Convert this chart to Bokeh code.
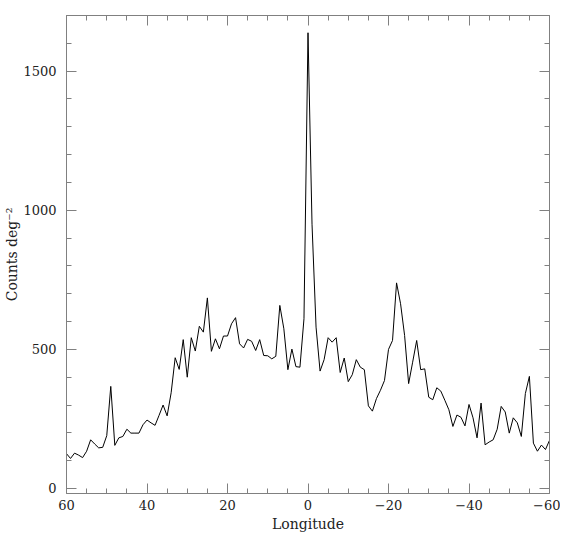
from bokeh.plotting import figure
from bokeh.models import Range1d, LinearAxis, FixedTicker, CustomJSTickFormatter
from bokeh.embed import file_html
from bokeh.resources import INLINE

longitude = [
    60, 59, 58, 57, 56, 55, 54, 53, 52, 51,
    50, 49, 48, 47, 46, 45, 44, 43, 42, 41,
    40, 39, 38, 37, 36, 35, 34, 33, 32, 31,
    30, 29, 28, 27, 26, 25, 24, 23, 22, 21,
    20, 19, 18, 17, 16, 15, 14, 13, 12, 11,
    10, 9, 8, 7, 6, 5, 4, 3, 2, 1,
    0, -1, -2, -3, -4, -5, -6, -7, -8, -9,
    -10, -11, -12, -13, -14, -15, -16, -17, -18, -19,
    -20, -21, -22, -23, -24, -25, -26, -27, -28, -29,
    -30, -31, -32, -33, -34, -35, -36, -37, -38, -39,
    -40, -41, -42, -43, -44, -45, -46, -47, -48, -49,
    -50, -51, -52, -53, -54, -55, -56, -57, -58, -59,
    -60,
]
counts = [
    125, 108, 127, 120, 111, 134, 175, 160, 146, 148,
    190, 367, 155, 182, 187, 213, 199, 199, 199, 229,
    246, 236, 227, 263, 300, 261, 344, 470, 428, 535,
    400, 542, 494, 583, 562, 685, 493, 538, 502, 548,
    548, 592, 614, 520, 505, 536, 529, 496, 535, 478,
    477, 466, 475, 658, 574, 427, 501, 438, 436, 610,
    1638, 950, 580, 422, 463, 542, 526, 542, 417, 469,
    384, 409, 463, 436, 427, 297, 278, 323, 353, 388,
    500, 532, 739, 664, 550, 377, 454, 532, 427, 430,
    328, 319, 362, 350, 317, 283, 223, 264, 256, 225,
    302, 254, 182, 307, 157, 167, 175, 213, 295, 275,
    199, 254, 236, 187, 341, 403, 163, 134, 156, 140,
    173,
]

x_ticks = [60, 40, 20, 0, -20, -40, -60]
x_tick_labels = ["60", "40", "20", "0", "\u221220", "\u221240", "\u221260"]
x_minor = [60 - 5 * i for i in range(25)]
y_ticks = [0, 500, 1000, 1500]
y_minor = [100 * i for i in range(18)]

FONT = "DejaVu Serif"
TEXT = "#222222"
AXC = "#808080"

p = figure(width=560, height=536, output_backend="svg", toolbar_location=None,
           x_range=Range1d(60, -60), y_range=Range1d(-18, 1700),
           min_border_left=66, min_border_right=11, min_border_top=15,
           min_border_bottom=43, outline_line_color=None)
p.xgrid.visible = False
p.ygrid.visible = False

p.line(longitude, counts, line_color="black", line_width=1)


def style(ax, major, minor, labels=True):
    ax.ticker = FixedTicker(ticks=major, minor_ticks=minor)
    ax.axis_line_color = AXC
    ax.major_tick_line_color = AXC
    ax.minor_tick_line_color = AXC
    ax.major_tick_in = 10
    ax.major_tick_out = 0
    ax.minor_tick_in = 5
    ax.minor_tick_out = 0
    ax.major_label_text_font = FONT
    ax.major_label_text_font_size = "13px"
    ax.major_label_text_color = TEXT
    ax.axis_label_text_font = FONT
    ax.axis_label_text_font_size = "14px"
    ax.axis_label_text_font_style = "normal"
    ax.axis_label_text_color = TEXT
    if not labels:
        ax.formatter = CustomJSTickFormatter(code="return ''")
        ax.major_label_text_font_size = "0px"
        ax.major_label_standoff = 0


xa = p.xaxis[0]
style(xa, x_ticks, x_minor)
xa.major_label_overrides = {t: l for t, l in zip(x_ticks, x_tick_labels)}
xa.axis_label = "Longitude"
xa.major_label_standoff = 6
xa.axis_label_standoff = 3

ya = p.yaxis[0]
style(ya, y_ticks, y_minor)
ya.axis_label = "Counts deg\u207b\u00b2"
ya.major_label_standoff = 10
ya.axis_label_standoff = 0
ya.major_label_orientation = "horizontal"

top = LinearAxis()
style(top, x_ticks, x_minor, labels=False)
p.add_layout(top, "above")
right = LinearAxis()
style(right, y_ticks, y_minor, labels=False)
p.add_layout(right, "right")

open("out.html", "w").write(file_html(p, INLINE))
